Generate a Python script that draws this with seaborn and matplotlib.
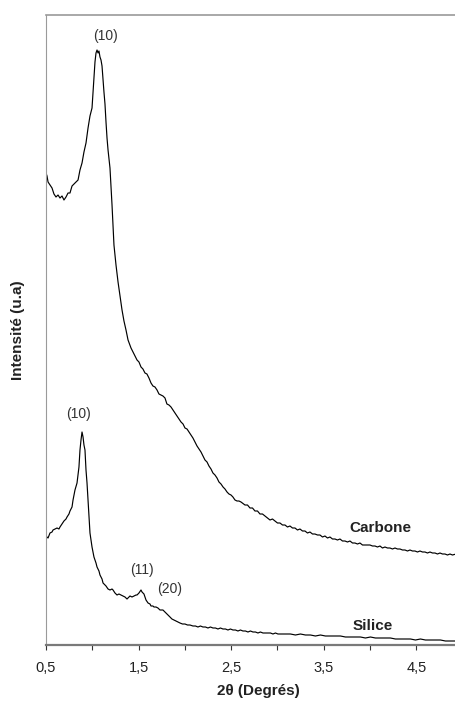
import matplotlib
matplotlib.use("Agg")
import matplotlib.pyplot as plt
import seaborn as sns
import pandas as pd
from matplotlib.ticker import FixedLocator, FixedFormatter

# ---------------- data ----------------
carbone_x = [0.500, 0.511, 0.522, 0.543, 0.565, 0.586, 0.608, 0.630, 0.651, 0.673,
             0.694, 0.716, 0.738, 0.759, 0.781, 0.802, 0.824, 0.846, 0.867, 0.889,
             0.910, 0.932, 0.954, 0.975, 0.986, 0.997, 1.008, 1.018, 1.029, 1.040,
             1.051, 1.062, 1.072, 1.083, 1.094, 1.105, 1.116, 1.126, 1.137, 1.148,
             1.159, 1.170, 1.191, 1.213, 1.234, 1.256, 1.278, 1.299, 1.321, 1.342,
             1.364, 1.386, 1.418, 1.450, 1.483, 1.504, 1.526, 1.547, 1.569, 1.590,
             1.612, 1.634, 1.655, 1.677, 1.699, 1.720, 1.742, 1.763, 1.785, 1.806,
             1.828, 1.850, 1.871, 1.893, 1.915, 1.936, 1.958, 1.980, 2.001, 2.023,
             2.044, 2.066, 2.087, 2.109, 2.131, 2.152, 2.174, 2.196, 2.217, 2.239,
             2.260, 2.282, 2.303, 2.325, 2.347, 2.368, 2.390, 2.412, 2.433, 2.455,
             2.476, 2.498, 2.519, 2.541, 2.563, 2.584,
             2.606, 2.649, 2.676, 2.703, 2.730, 2.757, 2.784, 2.811, 2.838, 2.865,
             2.892, 2.919, 2.946, 2.973, 3.000, 3.027, 3.054, 3.081, 3.108, 3.135,
             3.162, 3.189, 3.216, 3.243, 3.270, 3.297, 3.324, 3.351, 3.378, 3.405,
             3.432, 3.459, 3.486, 3.513, 3.540, 3.567, 3.594, 3.621, 3.648, 3.675,
             3.702, 3.729, 3.756, 3.783, 3.810, 3.837, 3.864, 3.891, 3.918, 3.945,
             3.972, 3.999, 4.026, 4.053, 4.080, 4.107, 4.134, 4.161, 4.188, 4.215,
             4.242, 4.269, 4.296, 4.323, 4.350, 4.377, 4.404, 4.431, 4.458, 4.485,
             4.512, 4.539, 4.566, 4.593, 4.620, 4.647, 4.674, 4.701, 4.728, 4.755,
             4.782, 4.809, 4.836, 4.863, 4.890, 4.928]
carbone_y = [472, 469, 463, 460, 457, 451, 448, 450, 447, 449,
             445, 448, 452, 452, 459, 461, 463, 465, 475, 482,
             493, 502, 517, 529, 533, 537, 553, 567, 583, 592,
             595, 592, 594, 588, 585, 579, 565, 553, 541, 523,
             507, 495, 477, 440, 400, 380, 363, 349, 335, 324,
             315, 305, 297, 291, 285, 283, 278, 276, 272, 271,
             267, 262, 259, 258, 255, 251, 250, 249, 247, 241,
             240, 238, 235, 232, 229, 226, 223, 221, 217, 216,
             213, 210, 207, 203, 199, 196, 193, 189, 185, 183,
             179, 176, 172, 170, 167, 163, 161, 158, 156, 153,
             151, 150, 148, 145, 144, 144,
             143, 140, 140, 137, 137, 134, 134, 131, 131, 129,
             127, 125, 126, 124, 122, 122, 120, 120, 118, 119,
             117, 117, 115, 116, 114, 114, 112, 113, 111, 111,
             110, 110, 108, 109, 107, 108, 106, 106, 105, 106,
             104, 104, 103, 104, 102, 102, 101, 102, 100, 100,
             100, 100, 99, 99, 98, 99, 97, 98, 97, 97,
             96, 97, 96, 96, 95, 95, 94, 95, 94, 94,
             93, 94, 93, 93, 92, 93, 92, 92, 91, 92,
             91, 91, 90, 91, 90, 91]

silice_x = [0.500, 0.511, 0.522, 0.543, 0.565, 0.576, 0.597, 0.619, 0.640, 0.651,
            0.673, 0.694, 0.716, 0.727, 0.748, 0.759, 0.781, 0.792, 0.813, 0.835,
            0.856, 0.867, 0.878, 0.889, 0.900, 0.910, 0.921, 0.932, 0.943, 0.954,
            0.964, 0.975, 0.997, 1.018, 1.040, 1.051, 1.072, 1.083, 1.105, 1.116,
            1.137, 1.148, 1.170, 1.191, 1.213, 1.224, 1.245, 1.267, 1.288, 1.310,
            1.332, 1.353, 1.375, 1.396, 1.407, 1.429, 1.450, 1.472, 1.483, 1.504,
            1.526, 1.537, 1.548, 1.558, 1.580, 1.602, 1.623, 1.634, 1.655, 1.666,
            1.688, 1.709, 1.731, 1.763, 1.785, 1.796, 1.817, 1.839, 1.860, 1.882,
            1.903, 1.925, 1.947, 1.974, 2.001, 2.028, 2.055, 2.087, 2.114, 2.141,
            2.168, 2.195, 2.222, 2.249, 2.276, 2.303, 2.330, 2.357, 2.384, 2.411,
            2.438, 2.465, 2.492, 2.519, 2.546, 2.573, 2.600, 2.627, 2.654, 2.681,
            2.708, 2.735, 2.762, 2.789, 2.816, 2.843, 2.870, 2.897, 2.924, 2.951,
            2.978, 3.005, 3.032, 3.086, 3.140, 3.194, 3.248, 3.302, 3.356, 3.410,
            3.464, 3.518, 3.572, 3.626, 3.680, 3.734, 3.788, 3.842, 3.896, 3.950,
            4.004, 4.058, 4.112, 4.166, 4.220, 4.274, 4.328, 4.382, 4.436, 4.490,
            4.544, 4.598, 4.652, 4.706, 4.760, 4.814, 4.868, 4.928]
silice_y = [106, 108, 107, 112, 113, 115, 116, 117, 116, 118,
            121, 124, 126, 128, 131, 134, 138, 145, 155, 162,
            178, 195, 205, 213, 208, 200, 195, 175, 162, 145,
            128, 112, 98, 88, 82, 78, 74, 70, 66, 62,
            60, 59, 56, 55, 56, 55, 52, 50, 51, 50,
            49, 48, 46, 48, 49, 48, 49, 50, 50, 52,
            55, 53, 52, 51, 45, 42, 41, 39, 39, 38,
            38, 37, 35, 35, 33, 32, 30, 28, 26, 25,
            24, 23, 22, 21, 21, 20, 20, 19, 19, 18,
            19, 18, 18, 17, 18, 17, 17, 16, 17, 16,
            16, 15, 16, 15, 15, 14, 15, 14, 14, 13,
            14, 13, 13, 12, 13, 12, 12, 12, 12, 11,
            12, 11, 11, 11, 11, 10, 11, 10, 10, 9,
            10, 9, 9, 9, 9, 8, 8, 8, 8, 7,
            8, 7, 7, 7, 7, 6, 6, 6, 6, 5,
            6, 5, 5, 5, 5, 4, 4, 4]

tick_major = [0.5, 1.5, 2.5, 3.5, 4.5]
tick_minor = [1.0, 2.0, 3.0, 4.0]
tick_labels = ["0,5", "1,5", "2,5", "3,5", "4,5"]

peak_labels = ["(10)", "(10)", "(11)", "(20)"]
peak_x = [1.142, 0.851, 1.537, 1.839]
peak_y = [609, 231, 75, 56]

series_names = ["Carbone", "Silice"]
series_label_x = [4.107, 4.031]
series_label_y = [117, 19]

# ---------------- figure ----------------
sns.set_style("white")
plt.rcParams["font.family"] = ["Liberation Sans", "DejaVu Sans"]

fig = plt.figure(figsize=(4.56, 7.04), dpi=100)
ax = fig.add_axes([46 / 456, 59 / 704, 410 / 456, 630 / 704])

df_c = pd.DataFrame({"x": carbone_x, "y": carbone_y})
df_s = pd.DataFrame({"x": silice_x, "y": silice_y})
sns.lineplot(data=df_c, x="x", y="y", ax=ax, color="black", linewidth=0.85,
             estimator=None, sort=False)
sns.lineplot(data=df_s, x="x", y="y", ax=ax, color="black", linewidth=0.85,
             estimator=None, sort=False)

ax.set_xlim(0.5, 4.928)
ax.set_ylim(0, 630)

ax.xaxis.set_major_locator(FixedLocator(tick_major))
ax.xaxis.set_major_formatter(FixedFormatter(tick_labels))
ax.xaxis.set_minor_locator(FixedLocator(tick_minor))
ax.tick_params(axis="x", which="both", direction="out", length=3.5, width=0.8,
               color="#333333", bottom=True, labelsize=10.5, pad=8,
               labelcolor="#222222")
ax.tick_params(axis="y", left=False, labelleft=False)

ax.spines["right"].set_visible(False)
ax.spines["bottom"].set_color("#7a7a7a")
ax.spines["bottom"].set_linewidth(1.6)
ax.spines["left"].set_color("#9a9a9a")
ax.spines["left"].set_linewidth(0.8)
ax.spines["top"].set_color("#9a9a9a")
ax.spines["top"].set_linewidth(1.2)

ax.set_xlabel("2θ (Degrés)", fontsize=11, fontweight="bold", color="#222222")
ax.xaxis.set_label_coords((258 - 46) / 410, -(684 - 645) / 630)
ax.set_ylabel("Intensité (u.a)", fontsize=11, fontweight="bold", color="#222222")
ax.yaxis.set_label_coords(-(46 - 25) / 410, 0.5)

for t, x, y in zip(peak_labels, peak_x, peak_y):
    ax.text(x, y, t, ha="center", va="center", fontsize=10, color="#333333")
for t, x, y in zip(series_names, series_label_x, series_label_y):
    ax.text(x, y, t, ha="center", va="center", fontsize=11, fontweight="bold",
            color="#222222")

fig.savefig("out.png", dpi=100)
